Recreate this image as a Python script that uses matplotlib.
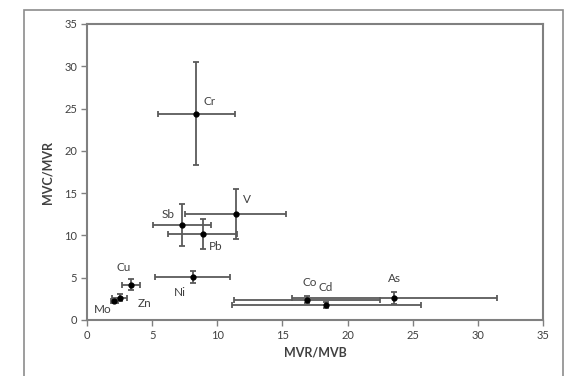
import matplotlib
matplotlib.use("Agg")
import matplotlib.pyplot as plt
from matplotlib.patches import Rectangle

plt.rcParams['font.family'] = ['Lato', 'DejaVu Sans']

# element, MVR/MVB (x), MVC/MVR (y), x error, y error
elements = ["Cr", "V", "Sb", "Pb", "Ni", "Cu", "Zn", "Mo", "Co", "Cd", "As"]
x_vals = [8.4, 11.4, 7.3, 8.9, 8.1, 3.4, 2.5, 2.1, 16.9, 18.35, 23.6]
y_vals = [24.4, 12.5, 11.2, 10.15, 5.05, 4.15, 2.65, 2.2, 2.4, 1.75, 2.6]
x_err = [2.95, 3.85, 2.2, 2.65, 2.85, 0.7, 0.6, 0.25, 5.6, 7.25, 7.9]
y_err = [6.05, 2.95, 2.5, 1.8, 0.7, 0.65, 0.4, 0.15, 0.4, 0.38, 0.75]

# where each label sits
label_x = [9.4, 12.3, 6.2, 9.9, 7.15, 2.8, 4.4, 1.2, 17.1, 18.35, 23.6]
label_y = [25.8, 14.2, 12.5, 8.7, 3.2, 6.2, 1.9, 1.2, 4.45, 3.8, 4.95]

fig = plt.figure(figsize=(5.67, 3.76), dpi=100)
ax = fig.add_axes([87/567, 1-320/376, (543-87)/567, (320-24)/376])

ax.errorbar(x_vals, y_vals, xerr=x_err, yerr=y_err, fmt='o', color='black',
            ecolor='#5a5a5a', elinewidth=1.3, capsize=2.5, capthick=1.3,
            markersize=3.5, zorder=3)

for name, lx, ly in zip(elements, label_x, label_y):
    ax.text(lx, ly, name, ha='center', va='center', fontsize=8.5, color='#404040')

ax.set_xlim(0, 35)
ax.set_ylim(0, 35)
ax.set_xticks(range(0, 36, 5))
ax.set_yticks(range(0, 36, 5))
ax.tick_params(direction='out', length=4, width=1, color='#808080',
               labelsize=8, labelcolor='#404040', pad=3)
for s in ax.spines.values():
    s.set_color('#808080')
    s.set_linewidth(1.5)

ax.set_xlabel('MVR/MVB', fontsize=9, fontweight='bold', color='#404040', labelpad=4)
ax.set_ylabel('MVC/MVR', fontsize=9, fontweight='bold', color='#404040', labelpad=8)

# outer chart border
fig.patches.append(Rectangle((24/567, -0.05), (563-24)/567, 1.05-10/376,
                             transform=fig.transFigure, fill=False,
                             edgecolor='#8c8c8c', linewidth=1.2))

fig.savefig('out.png', dpi=100)
